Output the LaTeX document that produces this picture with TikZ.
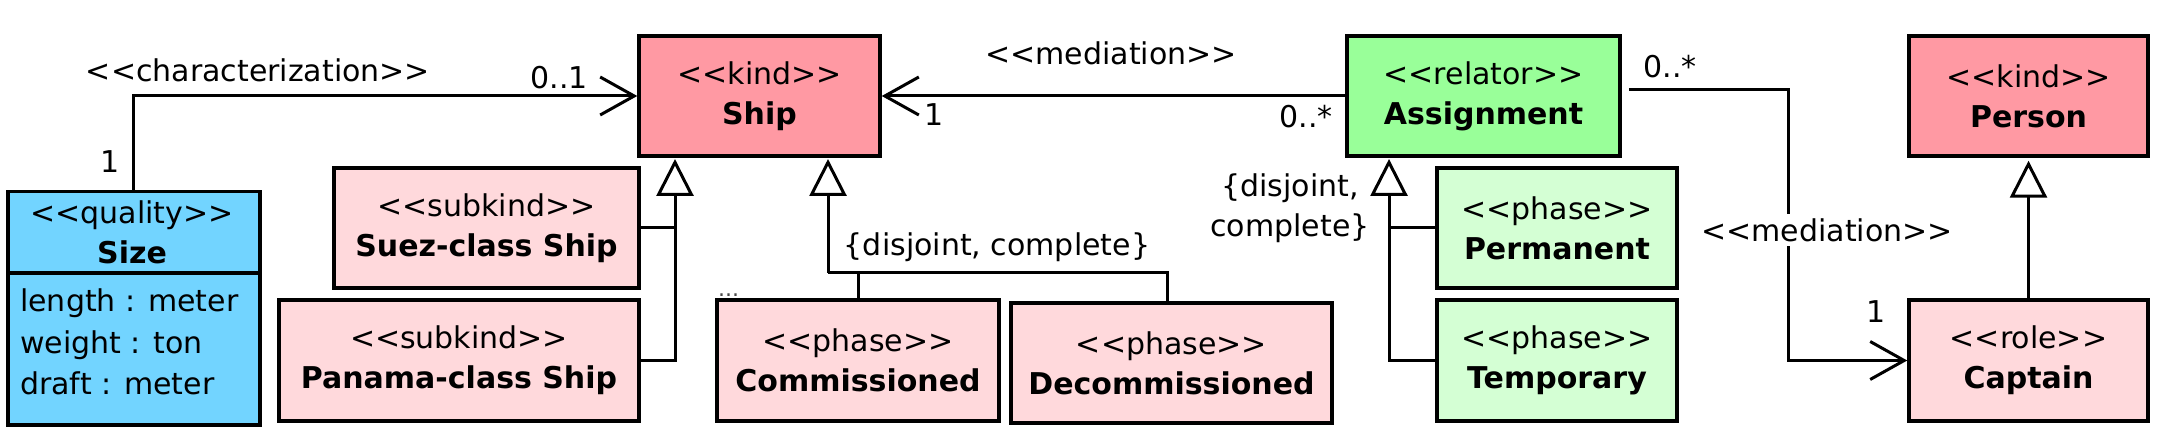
\documentclass[tikz,border=0pt]{standalone}
\usepackage{fontspec}
\setmainfont{DejaVu Sans}
\usetikzlibrary{arrows.meta}
\definecolor{kindc}{HTML}{FF99A3}
\definecolor{subc}{HTML}{FFD9DC}
\definecolor{relc}{HTML}{99FF99}
\definecolor{phasegc}{HTML}{D4FFD4}
\definecolor{qualc}{HTML}{72D4FF}
\newcommand\stt[1]{<\kern0pt<#1>\kern0pt>}
\begin{document}
\begin{tikzpicture}[x=1pt,y=-1pt,
  every node/.style={font=\fontsize{30}{40}\selectfont, inner sep=0pt},
  box/.style={draw=black, line width=3.5pt, align=center},
  conn/.style={line width=3pt},
  assoc/.style={conn, -{Straight Barb[length=34pt,width=38pt]}},
  gen/.style={conn, -{Triangle[open,length=37pt,width=37pt,fill=white]}}]
\useasboundingbox (0,0) rectangle (2160,435);
% top row
\node[box, fill=kindc, minimum width=241pt, minimum height=120pt] (ship) at (759.5,96) {\stt{kind}\\\textbf{Ship}};
\node[box, fill=relc, minimum width=273pt, minimum height=120pt] (assign) at (1483.5,96) {\stt{relator}\\\textbf{Assignment}};
\node[box, fill=kindc, minimum width=239pt, minimum height=120pt] (person) at (2028.5,96) {\stt{kind}\\\textbf{Person}};
% size
\node[box, fill=qualc, minimum width=252pt, minimum height=233pt, anchor=north west] (size) at (6,190) {};
\draw[line width=3.5pt] (6,273) -- (258,273);
\node[align=center] (sizehead) at (132,232) {\stt{quality}\\\textbf{Size}};
\node[anchor=west, align=left, font=\fontsize{30}{41.5}\selectfont] (sizeattr) at (20,342) {length : meter\\weight : ton\\draft : meter};
% subkinds
\node[box, fill=subc, minimum width=305pt, minimum height=120pt] (suez) at (486.5,228) {\stt{subkind}\\\textbf{Suez-class Ship}};
\node[box, fill=subc, minimum width=360pt, minimum height=121pt] (panama) at (459,360.5) {\stt{subkind}\\\textbf{Panama-class Ship}};
% phases of ship
\node[box, fill=subc, minimum width=282pt, minimum height=121pt] (comm) at (858,360.5) {\stt{phase}\\\textbf{Commissioned}};
\node[box, fill=subc, minimum width=321pt, minimum height=120pt] (decomm) at (1171.5,363) {\stt{phase}\\\textbf{Decommissioned}};
% phases of assignment
\node[box, fill=phasegc, minimum width=240pt, minimum height=120pt] (perm) at (1557,228) {\stt{phase}\\\textbf{Permanent}};
\node[box, fill=phasegc, minimum width=240pt, minimum height=121pt] (temp) at (1557,360.5) {\stt{phase}\\\textbf{Temporary}};
% captain
\node[box, fill=subc, minimum width=239pt, minimum height=121pt] (captain) at (2028.5,360.5) {\stt{role}\\\textbf{Captain}};
\node[font=\fontsize{22}{22}\selectfont, text=black!70, anchor=base west] (dots) at (718,297) {...};

% characterization
\draw[assoc] (size.north) |- (ship.west);
\node (charlbl) at (258,70) {\stt{characterization}};
\node (charm1) at (559,78) {0..1};
\node (charm2) at (110,162) {1};
% mediation ship
\draw[assoc] (assign.west) -- (ship.east);
\node (medlbl) at (1111,53) {\stt{mediation}};
\node (medm1) at (934,115) {1};
\node (medm2) at (1306,117) {0..*};
% mediation captain
\coordinate (m1) at (1788,90);
\draw[assoc] ([yshift=6pt,xshift=7pt]assign.east) -- (m1) -- (m1 |- captain.west) -- (captain.west);
\node[fill=white, inner sep=4pt] (med2lbl) at (1827,230) {\stt{mediation}};
\node (med2m1) at (1670,67) {0..*};
\node (med2m2) at (1876,312) {1};
% generalizations to ship (subkinds)
\coordinate (gA) at (675,159);
\draw[gen] (panama.east) -| (gA);
\draw[conn] (suez.east) -- (suez.east -| gA);
% generalizations to ship (phases)
\coordinate (gB) at (828,159);
\coordinate (jB) at (828,273);
\draw[gen] (jB) -- (gB);
\draw[conn] (comm.north) |- (jB);
\draw[conn] ([xshift=-4.5pt]decomm.north) |- (jB);
\node (gBlbl) at (997,247) {\{disjoint, complete\}};
% generalizations to assignment
\coordinate (gC) at (1389,159);
\draw[gen] (temp.west) -| (gC);
\draw[conn] (perm.west) -- (perm.west -| gC);
\node[align=center] (gClbl) at (1290,208) {\{disjoint,\\complete\}};
% captain to person
\draw[gen] (captain.north) -- ([yshift=-3pt]person.south);
\end{tikzpicture}
\end{document}
